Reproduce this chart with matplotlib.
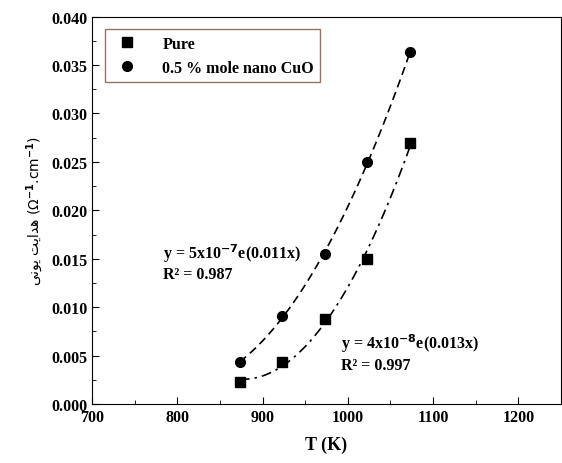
import matplotlib.pyplot as plt
import numpy as np

temps = [873, 923, 973, 1023, 1073]
pure = [0.0023, 0.0043, 0.0088, 0.0150, 0.0270]
cuo = [0.0043, 0.0091, 0.0155, 0.0250, 0.0363]

plt.rcParams['font.family'] = ['Liberation Serif', 'DejaVu Sans']
plt.rcParams['font.weight'] = 'bold'
plt.rcParams['mathtext.default'] = 'bf'

fig, ax = plt.subplots(figsize=(5.62, 4.64), dpi=100)
fig.subplots_adjust(left=0.164, right=0.998, top=0.962, bottom=0.127)

xs = np.linspace(873, 1073, 100)
for y, ls in [(pure, (0, (6, 3, 1.5, 3))), (cuo, (0, (5, 3)))]:
    c = np.polyfit(temps, y, 2)
    ax.plot(xs, np.polyval(c, xs), color='black', ls=ls, lw=1.2)

ax.plot(temps, pure, 's', color='black', ms=7, label='Pure')
ax.plot(temps, cuo, 'o', color='black', ms=7, label='0.5 % mole nano CuO')

ax.text(783, 0.0168, 'y = 5x10$^{\\mathbf{-7}}$e(0.011x)\nR² = 0.987', fontsize=11.5, fontweight='bold', va='top')
ax.text(992, 0.0075, 'y = 4x10$^{\\mathbf{-8}}$e(0.013x)\nR² = 0.997', fontsize=11.5, fontweight='bold', va='top')

ax.set_xlim(700, 1250)
ax.set_ylim(0, 0.04)
ax.set_xticks(range(700, 1201, 100))
ax.set_yticks(np.arange(0, 0.0401, 0.005))
ax.yaxis.set_major_formatter(plt.FormatStrFormatter('%.3f'))
ax.set_xticks(range(750, 1251, 100), minor=True)
ax.set_yticks(np.arange(0.0025, 0.04, 0.005), minor=True)
ax.tick_params(which='both', labelsize=11.5, direction='in')
ax.tick_params(which='major', length=5)
ax.tick_params(which='minor', length=3)
ax.set_xlabel('T (K)', fontsize=13, fontweight='bold', labelpad=8)
ylab = '\uFBFD\uFEE7\uFEEE\uFBFE \uFE96\uFBFE\uFE8D\uFEAA\uFEEB (\u03A9$^{-1}$.cm$^{-1}$)'
ax.set_ylabel(ylab, fontsize=10, family=['DejaVu Sans'], fontweight='normal', labelpad=4)

leg = ax.legend(loc='upper left', fontsize=11.5, fancybox=False, edgecolor='#7a5040',
                borderaxespad=0.8, handletextpad=1.2)
leg.get_frame().set_linewidth(1.0)

fig.savefig('out.png')
